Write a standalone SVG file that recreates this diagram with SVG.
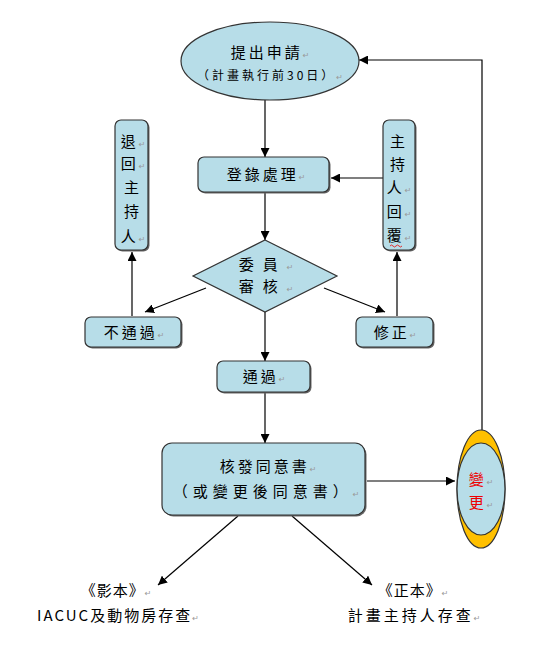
<svg xmlns="http://www.w3.org/2000/svg" width="545" height="660" viewBox="0 0 545 660">
<defs>
<marker id="arr" viewBox="0 0 10 10" refX="10" refY="5" markerWidth="9" markerHeight="9" markerUnits="userSpaceOnUse" orient="auto">
<path d="M0,0 L10,5 L0,10 z" fill="#000"/>
</marker>
</defs>
<style>
.box{fill:#B7DDE8;stroke:#333;stroke-width:1.2}
.sh{fill:#666}
.t{font-family:"Noto Sans CJK TC","Noto Sans CJK SC",sans-serif;font-size:15px;fill:#000;text-anchor:middle;letter-spacing:3px}
.s{font-size:12px}
.d{font-size:15px;letter-spacing:9px}
.pm{font-family:"DejaVu Sans",sans-serif;font-size:8px;fill:#999;letter-spacing:0}
.lnA{stroke:#000;stroke-width:1.2;fill:none;marker-end:url(#arr)}
</style>
<rect width="545" height="660" fill="#fff"/>
<g id="connectors">
<line class="lnA" x1="265" y1="100" x2="265" y2="157"/>
<line class="lnA" x1="383" y1="178" x2="331" y2="178"/>
<line class="lnA" x1="265" y1="193" x2="265" y2="240"/>
<line class="lnA" x1="206" y1="288" x2="145" y2="312"/>
<line class="lnA" x1="324" y1="288" x2="385" y2="312"/>
<line class="lnA" x1="132" y1="316" x2="132" y2="252"/>
<line class="lnA" x1="397" y1="316" x2="397" y2="252"/>
<line class="lnA" x1="265" y1="312" x2="265" y2="361"/>
<line class="lnA" x1="265" y1="393" x2="265" y2="443"/>
<line class="lnA" x1="367" y1="481" x2="455" y2="481"/>
<polyline class="lnA" points="482,430 482,60 359,60"/>
<line class="lnA" x1="238" y1="516" x2="158" y2="585"/>
<line class="lnA" x1="292" y1="516" x2="372" y2="585"/>
</g>
<g id="n-apply">
<ellipse cx="270" cy="61" rx="89" ry="39" class="box"/>
<text class="t" x="270" y="58">提出申請<tspan class="pm">↵</tspan></text>
<text class="t s" x="270" y="80">（計畫執行前30日）<tspan class="pm">↵</tspan></text>
</g>
<g id="n-register">
<rect x="199.5" y="158.5" width="131" height="35" rx="6" class="sh"/>
<rect x="198" y="157" width="131" height="35" rx="6" class="box"/>
<text class="t" x="266" y="180">登錄處理<tspan class="pm">↵</tspan></text>
</g>
<g id="n-review">
<polygon points="265,240 337,276 265,312 193,276" class="box"/>
<text class="t d" x="266" y="270">委員<tspan class="pm">↵</tspan></text>
<text class="t d" x="266" y="292">審核<tspan class="pm">↵</tspan></text>
</g>
<g id="n-return">
<rect x="116.5" y="121.5" width="33" height="130" rx="6" class="sh"/>
<rect x="115" y="120" width="33" height="130" rx="6" class="box"/>
<text class="t" x="133" y="147">退<tspan class="pm">↵</tspan></text>
<text class="t" x="133" y="169">回<tspan class="pm">↵</tspan></text>
<text class="t" x="133" y="193">主</text>
<text class="t" x="133" y="217">持</text>
<text class="t" x="133" y="242">人<tspan class="pm">↵</tspan></text>
</g>
<g id="n-reply">
<rect x="384.5" y="121.5" width="32" height="130" rx="6" class="sh"/>
<rect x="383" y="120" width="32" height="130" rx="6" class="box"/>
<text class="t" x="399" y="147">主</text>
<text class="t" x="399" y="170">持</text>
<text class="t" x="399" y="193">人<tspan class="pm">↵</tspan></text>
<text class="t" x="399" y="217">回<tspan class="pm">↵</tspan></text>
<text class="t" x="399" y="241">覆<tspan class="pm">↵</tspan></text>
<path d="M390,246 q1.5,-2 3,0 t3,0 t3,0 t3,0" stroke="#e00" stroke-width="0.8" fill="none"/>
</g>
<g id="n-fail">
<rect x="86.5" y="318.5" width="96" height="30" rx="6" class="sh"/>
<rect x="85" y="317" width="96" height="30" rx="6" class="box"/>
<text class="t" x="134" y="338">不通過<tspan class="pm">↵</tspan></text>
</g>
<g id="n-revise">
<rect x="357.5" y="318.5" width="77" height="30" rx="6" class="sh"/>
<rect x="356" y="317" width="77" height="30" rx="6" class="box"/>
<text class="t" x="395" y="338">修正<tspan class="pm">↵</tspan></text>
</g>
<g id="n-pass">
<rect x="218.5" y="362.5" width="93" height="31" rx="6" class="sh"/>
<rect x="217" y="361" width="93" height="31" rx="6" class="box"/>
<text class="t" x="264" y="382">通過<tspan class="pm">↵</tspan></text>
</g>
<g id="n-issue">
<rect x="163.5" y="444.5" width="203" height="72" rx="10" class="sh"/>
<rect x="162" y="443" width="203" height="72" rx="10" class="box"/>
<text class="t" x="268" y="472">核發同意書<tspan class="pm">↵</tspan></text>
<text class="t" x="266" y="497" style="letter-spacing:5px">（或變更後同意書）<tspan class="pm">↵</tspan></text>
</g>
<g id="n-change">
<ellipse cx="481" cy="489" rx="24" ry="59" fill="#FFC000" stroke="#333" stroke-width="1.2"/>
<ellipse cx="481" cy="489" rx="24" ry="46" class="box"/>
<text class="t" x="481" y="485" style="fill:#e00">變<tspan class="pm">↵</tspan></text>
<text class="t" x="481" y="508" style="fill:#e00">更<tspan class="pm">↵</tspan></text>
</g>
<g id="n-copy">
<text class="t" x="116" y="596" style="letter-spacing:1px">《影本》<tspan class="pm">↵</tspan></text>
<text class="t" x="118" y="621" style="letter-spacing:2px">IACUC及動物房存查<tspan class="pm">↵</tspan></text>
</g>
<g id="n-original">
<text class="t" x="413" y="596" style="letter-spacing:1px">《正本》<tspan class="pm">↵</tspan></text>
<text class="t" x="414" y="621" style="letter-spacing:3px">計畫主持人存查<tspan class="pm">↵</tspan></text>
</g>
</svg>
